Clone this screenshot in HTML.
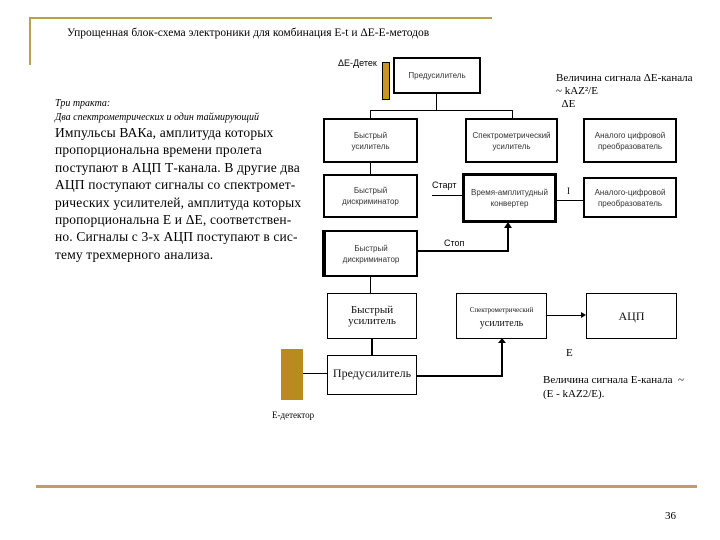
<!DOCTYPE html>
<html><head><meta charset="utf-8"><style>
body{margin:0;width:720px;height:540px;background:#fff;position:relative;overflow:hidden;font-family:"Liberation Serif",serif;}
.a{position:absolute;}
.b{position:absolute;border:2px solid #000;box-sizing:border-box;display:flex;align-items:center;justify-content:center;text-align:center;font-family:"Liberation Sans",sans-serif;font-size:8px;color:#333;line-height:11px;}
.s{font-family:"Liberation Serif",serif;font-size:11px;color:#111;border-width:1px;}
</style></head><body>
<div class="a" style="left:29px;top:17px;width:463px;height:2px;background:#b8a050"></div>
<div class="a" style="left:29px;top:17px;width:2px;height:48px;background:#b8a050"></div>
<div class="a" style="left:36px;top:485px;width:661px;height:3px;background:#c0a060"></div>
<div class="a" style="left:67px;top:27px;font-size:11.5px;">Упрощенная блок-схема электроники для комбинация E-t и ΔE-E-методов</div>
<div class="a" style="left:55px;top:97px;font-size:10px;font-style:italic;line-height:14px;">Три тракта:<br>Два спектрометрических и один таймирующий</div>
<div class="a" style="left:55px;top:124px;font-size:13.5px;letter-spacing:0.15px;line-height:17.4px;width:270px;white-space:nowrap;">Импульсы ВАКа, амплитуда которых<br>пропорциональна времени пролета<br>поступают в АЦП Т-канала. В другие два<br>АЦП поступают сигналы со спектромет-<br>рических усилителей, амплитуда которых<br>пропорциональна Е и ΔЕ, соответствен-<br>но. Сигналы с 3-х АЦП поступают в сис-<br>тему трехмерного анализа.</div>

<div class="a" style="left:338px;top:58px;font-size:9px;font-family:'Liberation Sans',sans-serif;">ΔE-Детек</div>
<div class="a" style="left:382px;top:62px;width:8px;height:38px;background:#c8961e;border:1px solid #000;box-sizing:border-box"></div>
<div class="b" style="left:393px;top:57px;width:88px;height:37px;">Предусилитель</div>
<div class="a" style="left:556px;top:72px;font-size:11px;line-height:13px;">Величина сигнала ΔЕ-канала<br>~ kAZ²/E<br>&nbsp;&nbsp;ΔE</div>
<div class="a" style="left:436px;top:94px;width:1px;height:16px;background:#000"></div>
<div class="a" style="left:370px;top:110px;width:142px;height:1px;background:#000"></div>
<div class="a" style="left:370px;top:110px;width:1px;height:8px;background:#000"></div>
<div class="a" style="left:512px;top:110px;width:1px;height:8px;background:#000"></div>

<div class="b" style="left:323px;top:118px;width:95px;height:45px;">Быстрый<br>усилитель</div>
<div class="b" style="left:465px;top:118px;width:93px;height:45px;">Спектрометрический<br>усилитель</div>
<div class="b" style="left:583px;top:118px;width:94px;height:45px;">Аналого цифровой<br>преобразователь</div>
<div class="a" style="left:370px;top:163px;width:1px;height:11px;background:#000"></div>
<div class="b" style="left:323px;top:174px;width:95px;height:44px;">Быстрый<br>дискриминатор</div>
<div class="b" style="left:462px;top:173px;width:95px;height:50px;border-width:3px;">Время-амплитудный<br>конвертер</div>
<div class="b" style="left:583px;top:177px;width:94px;height:41px;">Аналого-цифровой<br>преобразователь</div>
<div class="a" style="left:432px;top:195px;width:30px;height:1px;background:#000"></div>
<div class="a" style="left:432px;top:180px;font-size:9px;font-family:'Liberation Sans',sans-serif;">Старт</div>
<div class="a" style="left:557px;top:200px;width:26px;height:1px;background:#000"></div>
<div class="a" style="left:567px;top:186px;font-size:9px;">I</div>
<div class="b" style="left:322px;top:230px;width:96px;height:47px;border-left-width:4px;">Быстрый<br>дискриминатор</div>
<div class="a" style="left:418px;top:250px;width:91px;height:2px;background:#000"></div>
<div class="a" style="left:507px;top:226px;width:2px;height:25px;background:#000"></div>
<div class="a" style="left:504px;top:222px;border-left:4px solid transparent;border-right:4px solid transparent;border-bottom:6px solid #000"></div>
<div class="a" style="left:444px;top:238px;font-size:9px;font-family:'Liberation Sans',sans-serif;">Стоп</div>
<div class="a" style="left:370px;top:277px;width:1px;height:16px;background:#000"></div>

<div class="b s" style="left:327px;top:293px;width:90px;height:46px;font-size:11px;">Быстрый<br>усилитель</div>
<div class="b s" style="left:456px;top:293px;width:91px;height:46px;display:block;padding-top:9px;line-height:13px;white-space:nowrap;"><span style="font-size:7px">Спектрометрический</span><br><span style="font-size:10px">усилитель</span></div>
<div class="b s" style="left:586px;top:293px;width:91px;height:46px;font-size:12px;">АЦП</div>
<div class="a" style="left:547px;top:315px;width:36px;height:1px;background:#000"></div>
<div class="a" style="left:581px;top:312px;border-top:3px solid transparent;border-bottom:3px solid transparent;border-left:5px solid #000"></div>
<div class="b s" style="left:327px;top:355px;width:90px;height:40px;font-size:12px;align-items:flex-start;padding-top:12px;">Предусилитель</div>
<div class="a" style="left:371px;top:339px;width:2px;height:16px;background:#000"></div>
<div class="a" style="left:417px;top:375px;width:86px;height:2px;background:#000"></div>
<div class="a" style="left:501px;top:340px;width:2px;height:36px;background:#000"></div>
<div class="a" style="left:498px;top:338px;border-left:4px solid transparent;border-right:4px solid transparent;border-bottom:5px solid #000"></div>
<div class="a" style="left:281px;top:349px;width:22px;height:51px;background:#b88a20;"></div>
<div class="a" style="left:303px;top:373px;width:24px;height:1px;background:#000"></div>
<div class="a" style="left:272px;top:410px;font-size:9px;">E-детектор</div>
<div class="a" style="left:566px;top:347px;font-size:11px;">E</div>
<div class="a" style="left:543px;top:373px;font-size:11px;line-height:14px;">Величина сигнала Е-канала&nbsp;&nbsp;~<br>(E - kAZ2/E).</div>
<div class="a" style="left:665px;top:510px;font-size:11px;">36</div>
</body></html>
